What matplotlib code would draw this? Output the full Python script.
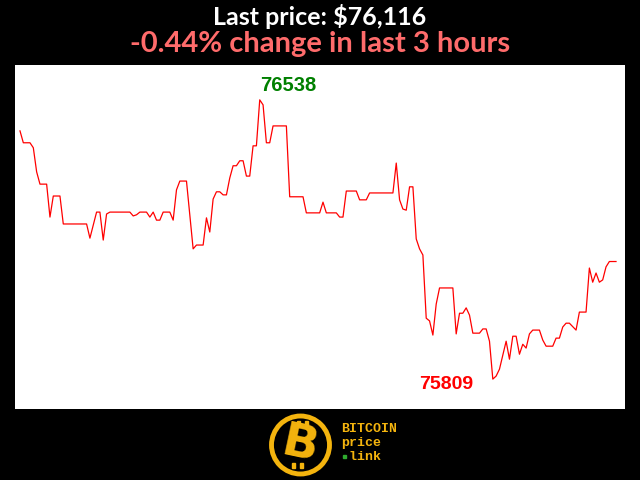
import numpy as np
import matplotlib
matplotlib.use("Agg")
import matplotlib.pyplot as plt
from matplotlib.patches import Circle, Rectangle

# minute index (3 hours, one point per minute) at each turning point of the line
minutes = [0, 1, 3, 4, 5, 6, 8, 9, 10, 12, 13, 20, 21, 23, 24, 25, 26, 27, 33,
           34, 35, 36, 38, 39, 40, 41, 42, 43, 45, 46, 47, 48, 50, 52, 53, 55,
           56, 57, 58, 59, 60, 61, 62, 63, 64, 65, 66, 67, 68, 69, 70, 71, 72,
           73, 74, 75, 76, 80, 81, 85, 86, 90, 91, 92, 95, 96, 97, 98, 101, 102,
           104, 105, 112, 113, 114, 115, 116, 117, 118, 119, 120, 121, 122, 123,
           124, 125, 126, 130, 131, 132, 133, 134, 135, 136, 138, 139, 140, 141,
           142, 143, 144, 146, 147, 148, 149, 150, 151, 152, 153, 154, 156, 157,
           158, 160, 161, 162, 163, 164, 165, 167, 168, 170, 171, 172, 173, 174,
           175, 176, 177, 179]
prices = [76457, 76426, 76426, 76413, 76350, 76318, 76318, 76232, 76287, 76287,
          76214, 76214, 76177, 76245, 76245, 76172, 76240, 76245, 76245, 76235,
          76238, 76245, 76245, 76232, 76245, 76224, 76224, 76245, 76245, 76224,
          76303, 76326, 76326, 76149, 76159, 76159, 76230, 76193, 76279, 76298,
          76298, 76290, 76290, 76334, 76366, 76366, 76379, 76379, 76339, 76339,
          76418, 76418, 76538, 76525, 76426, 76426, 76470, 76470, 76285, 76285,
          76243, 76243, 76271, 76243, 76243, 76232, 76232, 76300, 76300, 76277,
          76277, 76295, 76295, 76373, 76277, 76253, 76250, 76311, 76311, 76175,
          76149, 76133, 75968, 75961, 75924, 76005, 76047, 76047, 75927, 75981,
          75981, 75995, 75976, 75929, 75929, 75940, 75940, 75908, 75809, 75817,
          75835, 75908, 75861, 75921, 75921, 75874, 75900, 75890, 75927, 75937,
          75937, 75911, 75895, 75895, 75916, 75916, 75945, 75955, 75955, 75937,
          75984, 75984, 76099, 76062, 76086, 76062, 76068, 76102, 76116, 76116]

last_price = 76116
change_pct = -0.44
hours = 3

t = np.array(minutes)
p = np.array(prices)

fig = plt.figure(figsize=(6.4, 4.8), dpi=100, facecolor="black")

ax = fig.add_axes([15 / 640, 1 - 409 / 480, 610 / 640, 344 / 480])
ax.set_facecolor("white")
ax.plot(t, p, color="red", lw=0.9)
ax.set_xlim(-1.5, 181.7)
ax.set_ylim(75731, 76629)
ax.set_xticks([])
ax.set_yticks([])
for s in ax.spines.values():
    s.set_visible(False)

# max / min labels
imax = int(np.argmax(p))
imin = int(np.argmin(p))
ax.annotate(str(p[imax]), (t[imax], p[imax]), xytext=(0, 9),
            textcoords="offset pixels", ha="left", va="baseline",
            color="green", fontsize=14.5, fontweight="bold",
            family="Liberation Sans")
ax.annotate(str(p[imin]), (t[imin], p[imin]), xytext=(-20, -10),
            textcoords="offset pixels", ha="right", va="baseline",
            color="red", fontsize=14, fontweight="bold",
            family="Liberation Sans")

# titles
fig.text(0.5, 1 - 25 / 480, f"Last price: ${last_price:,}", ha="center",
         va="baseline", color="white", fontsize=18, fontweight="bold",
         family="Lato")
fig.text(0.5, 1 - 52 / 480, f"{change_pct:.2f}% change in last {hours} hours",
         ha="center", va="baseline", color="#ff6b6b", fontsize=21,
         fontweight="bold", family="Lato")

# logo drawn in pixel coordinates
lg = fig.add_axes([0, 0, 1, 1], facecolor="none")
lg.set_xlim(0, 640)
lg.set_ylim(480, 0)
lg.axis("off")
gold = "#f4b40e"
lg.add_patch(Circle((300.5, 445), 29, facecolor="black", edgecolor=gold, lw=3.5))
lg.add_patch(Rectangle((297, 421), 3, 5, color=gold))
lg.add_patch(Rectangle((305, 421), 3, 5, color=gold))
lg.add_patch(Rectangle((292, 463), 3, 5, color=gold))
lg.add_patch(Rectangle((300, 463), 3, 5, color=gold))
lg.text(300, 446, "B", ha="center", va="center", color=gold, fontsize=34,
        fontweight="heavy", family="DejaVu Sans", rotation=-12)
lg.text(341, 429, "BITCOIN", ha="left", va="center", color=gold, fontsize=9.5,
        fontweight="bold", family="Liberation Mono")
lg.text(341, 443, "price", ha="left", va="center", color=gold, fontsize=9.5,
        fontweight="bold", family="Liberation Mono")
lg.text(341, 457, " link", ha="left", va="center", color=gold, fontsize=9.5,
        fontweight="bold", family="Liberation Mono")
lg.add_patch(Rectangle((343, 455), 3, 3, color="#2faa2f"))

fig.savefig("out.png", dpi=100, facecolor="black")
